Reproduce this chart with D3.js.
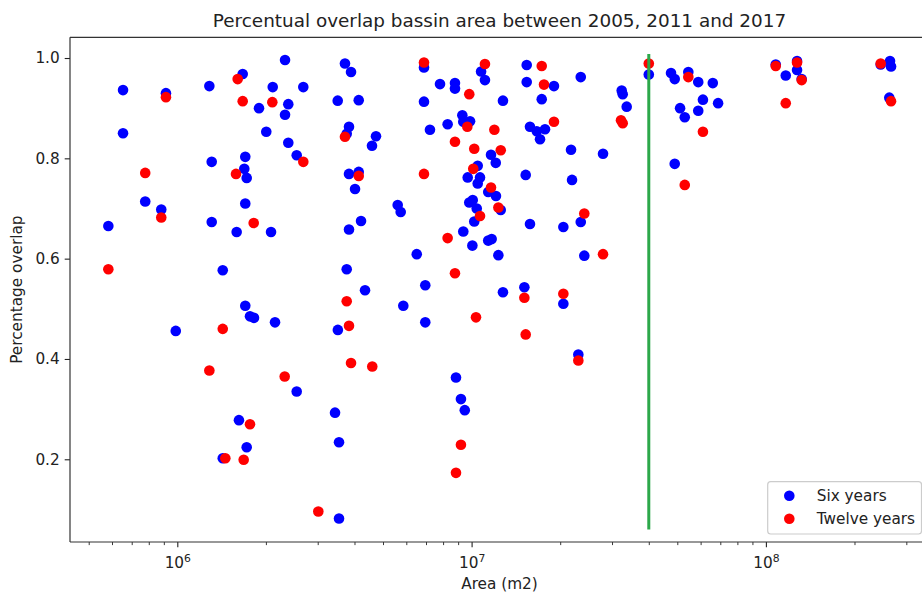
<!DOCTYPE html>
<html>
<head>
<meta charset="utf-8">
<script src="https://cdn.jsdelivr.net/npm/d3@7"></script>
<style>
  html, body { margin: 0; padding: 0; background: #fff; }
  svg { display: block; font-family: "DejaVu Sans", sans-serif; }
</style>
</head>
<body>
<svg id="chart" width="922" height="597"></svg>
<script>
// Basin area (m2) and percentage overlap, six-year comparisons
const sixYearsArea = [
  5.83e5, 6.54e5, 6.54e5, 7.78e5, 8.82e5, 9.15e5, 9.88e5, 1.285e6, 1.309e6, 1.309e6,
  1.427e6, 1.427e6, 1.591e6, 1.620e6, 1.668e6, 1.689e6, 1.702e6, 1.702e6, 1.702e6, 1.721e6,
  1.721e6, 1.766e6, 1.822e6, 1.895e6, 2.006e6, 2.082e6, 2.110e6, 2.148e6, 2.323e6, 2.323e6,
  2.383e6, 2.383e6, 2.545e6, 2.545e6, 2.680e6, 3.508e6, 3.512e6, 3.435e6, 3.544e6, 3.544e6,
  3.713e6, 3.893e6, 4.135e6, 3.832e6, 3.764e6, 4.733e6, 4.587e6, 3.832e6, 4.135e6, 4.017e6,
  5.609e6, 5.742e6, 4.210e6, 3.832e6, 3.764e6, 4.344e6, 5.86e6, 6.89e6, 7.81e6, 8.78e6,
  8.78e6, 6.89e6, 1.077e7, 1.110e7, 1.278e7, 1.539e7, 1.539e7, 1.905e7, 1.731e7, 1.579e7,
  1.776e7, 1.665e7, 1.708e7, 7.22e6, 8.29e6, 9.30e6, 9.37e6, 9.88e6, 1.164e7, 1.208e7,
  1.049e7, 9.70e6, 1.068e7, 1.049e7, 1.527e7, 1.139e7, 1.210e7, 9.82e6, 1.009e7, 1.041e7,
  1.256e7, 1.021e7, 9.37e6, 1.006e7, 1.139e7, 1.170e7, 1.233e7, 6.51e6, 1.579e7, 2.050e7,
  6.96e6, 6.96e6, 1.278e7, 1.511e7, 2.050e7, 8.85e6, 9.20e6, 9.48e6, 2.305e7, 2.349e7,
  3.236e7, 3.262e7, 3.365e7, 2.177e7, 2.796e7, 2.194e7, 2.349e7, 2.415e7, 4.0e7, 4.76e7,
  4.90e7, 5.45e7, 5.89e7, 6.60e7, 6.11e7, 6.88e7, 5.11e7, 5.30e7, 5.89e7, 4.90e7,
  1.080e8, 1.276e8, 1.276e8, 1.168e8, 1.323e8, 2.455e8, 2.641e8, 2.662e8, 2.626e8
];
const sixYearsOverlap = [
  0.665, 0.936, 0.850, 0.714, 0.698, 0.930, 0.456, 0.944, 0.793, 0.673,
  0.577, 0.202, 0.653, 0.278, 0.968, 0.779, 0.803, 0.710, 0.506, 0.761,
  0.224, 0.485, 0.482, 0.900, 0.853, 0.653, 0.942, 0.473, 0.996, 0.887,
  0.908, 0.831, 0.806, 0.335, 0.942, 0.915, 0.458, 0.293, 0.234, 0.082,
  0.989, 0.972, 0.916, 0.863, 0.849, 0.844, 0.825, 0.769, 0.773, 0.739,
  0.707, 0.693, 0.675, 0.658, 0.579, 0.537, 0.506, 0.981, 0.948, 0.950,
  0.939, 0.913, 0.973, 0.956, 0.915, 0.986, 0.952, 0.944, 0.918, 0.863,
  0.858, 0.854, 0.838, 0.857, 0.868, 0.886, 0.873, 0.874, 0.807, 0.791,
  0.785, 0.762, 0.762, 0.750, 0.767, 0.733, 0.725, 0.712, 0.717, 0.700,
  0.697, 0.674, 0.654, 0.626, 0.636, 0.639, 0.607, 0.609, 0.669, 0.663,
  0.547, 0.473, 0.533, 0.543, 0.510, 0.363, 0.320, 0.298, 0.409, 0.962,
  0.935, 0.928, 0.903, 0.817, 0.809, 0.757, 0.673, 0.606, 0.967, 0.970,
  0.958, 0.972, 0.952, 0.950, 0.917, 0.910, 0.900, 0.882, 0.895, 0.789,
  0.987, 0.994, 0.976, 0.965, 0.958, 0.987, 0.994, 0.983, 0.921
];

// Twelve-year comparisons
const twelveYearsArea = [
  5.83e5, 7.78e5, 8.82e5, 9.15e5, 1.285e6, 1.427e6, 1.456e6, 1.604e6, 1.668e6, 1.583e6,
  1.681e6, 1.766e6, 1.818e6, 2.103e6, 2.317e6, 2.680e6, 3.014e6, 3.713e6, 4.135e6, 3.764e6,
  3.832e6, 3.893e6, 4.597e6, 6.89e6, 6.89e6, 9.82e6, 1.110e7, 1.731e7, 1.762e7, 1.905e7,
  9.67e6, 1.195e7, 8.78e6, 1.021e7, 1.256e7, 1.013e7, 1.164e7, 1.233e7, 1.068e7, 8.29e6,
  8.78e6, 1.035e7, 1.511e7, 1.527e7, 9.20e6, 8.85e6, 2.050e7, 2.305e7, 3.218e7, 3.262e7,
  2.415e7, 2.796e7, 4.0e7, 5.45e7, 6.11e7, 5.30e7, 1.080e8, 1.276e8, 1.323e8, 1.168e8,
  2.455e8, 2.662e8
];
const twelveYearsOverlap = [
  0.579, 0.771, 0.682, 0.922, 0.377, 0.460, 0.202, 0.958, 0.914, 0.769,
  0.199, 0.270, 0.671, 0.912, 0.365, 0.793, 0.096, 0.843, 0.765, 0.515,
  0.466, 0.392, 0.385, 0.991, 0.769, 0.928, 0.988, 0.984, 0.947, 0.873,
  0.863, 0.857, 0.833, 0.819, 0.816, 0.779, 0.742, 0.702, 0.685, 0.641,
  0.571, 0.483, 0.522, 0.449, 0.229, 0.173, 0.530, 0.397, 0.876, 0.870,
  0.690, 0.609, 0.989, 0.962, 0.853, 0.747, 0.984, 0.991, 0.956, 0.910,
  0.989, 0.914
];

// Vertical reference line at 4e7 m2
const thresholdArea = 4e7;
const thresholdRange = [0.06, 1.008];

const xMajorTicks = [1e6, 1e7, 1e8];
const yTicks = [0.2, 0.4, 0.6, 0.8, 1.0];
const seriesNames = ["Six years", "Twelve years"];
const seriesColors = ["#0000ff", "#ff0000"];

const svg = d3.select("#chart");
const plotLeft = 70, plotRight = 929, plotTop = 37.3, plotBottom = 542;

const x = d3.scaleLog().domain([Math.pow(10, 5.6354), Math.pow(10, 8.5542)]).range([plotLeft, plotRight]);
const y = d3.scaleLinear().domain([0.0351, 1.0413]).range([plotBottom, plotTop]);

const tickColor = "#222";

// Minor ticks on the log axis
const minorTicks = [];
for (let e = 5; e <= 8; e++) {
  for (let k = 2; k <= 9; k++) {
    const v = k * Math.pow(10, e);
    if (v >= x.domain()[0] && v <= x.domain()[1]) minorTicks.push(v);
  }
}

const gxMinor = svg.append("g").attr("transform", `translate(0,${plotBottom})`)
  .call(d3.axisBottom(x).tickValues(minorTicks).tickSize(3.1).tickFormat(""));
gxMinor.select(".domain").remove();
gxMinor.selectAll("line").attr("stroke", tickColor).attr("stroke-width", 0.9);

const gx = svg.append("g").attr("transform", `translate(0,${plotBottom})`)
  .call(d3.axisBottom(x).tickValues(xMajorTicks).tickSize(5.3).tickPadding(5).tickFormat(() => ""));
gx.select(".domain").remove();
gx.selectAll("line").attr("stroke", tickColor).attr("stroke-width", 1.1);
gx.selectAll(".tick").each(function(d) {
  const t = d3.select(this).select("text")
    .attr("y", 26).attr("dy", null)
    .attr("font-size", 15.3).attr("fill", "#222")
    .attr("font-family", "DejaVu Sans, sans-serif");
  t.text(null);
  t.append("tspan").text("10");
  t.append("tspan").attr("dy", -6).attr("font-size", 10.8).text(String(Math.round(Math.log10(d))));
});

const gy = svg.append("g").attr("transform", `translate(${plotLeft},0)`)
  .call(d3.axisLeft(y).tickValues(yTicks).tickSize(5.3).tickPadding(5).tickFormat(d3.format(".1f")));
gy.select(".domain").remove();
gy.selectAll("line").attr("stroke", tickColor).attr("stroke-width", 1.1);
gy.selectAll("text").attr("font-size", 15.3).attr("fill", "#222")
  .attr("font-family", "DejaVu Sans, sans-serif");

// Data points: six-year series first, twelve-year series on top
const plot = svg.append("g");

const sixData = sixYearsArea.map((a, i) => ({ a, v: sixYearsOverlap[i] }));
const twelveData = twelveYearsArea.map((a, i) => ({ a, v: twelveYearsOverlap[i] }));

plot.selectAll("circle.six").data(sixData).join("circle")
  .attr("class", "six")
  .attr("cx", d => x(d.a)).attr("cy", d => y(d.v)).attr("r", 5.3)
  .attr("fill", seriesColors[0]);

plot.selectAll("circle.twelve").data(twelveData).join("circle")
  .attr("class", "twelve")
  .attr("cx", d => x(d.a)).attr("cy", d => y(d.v)).attr("r", 5.3)
  .attr("fill", seriesColors[1]);

plot.append("line")
  .attr("x1", x(thresholdArea)).attr("x2", x(thresholdArea))
  .attr("y1", y(thresholdRange[0])).attr("y2", y(thresholdRange[1]))
  .attr("stroke", "#2ca84a").attr("stroke-width", 3);

// Spines
const spine = svg.append("g").attr("stroke", "#333").attr("stroke-width", 1.2).attr("fill", "none");
spine.append("line").attr("x1", plotLeft).attr("x2", plotLeft).attr("y1", plotTop).attr("y2", plotBottom);
spine.append("line").attr("x1", plotLeft).attr("x2", plotRight).attr("y1", plotBottom).attr("y2", plotBottom);
spine.append("line").attr("x1", plotLeft).attr("x2", plotRight).attr("y1", plotTop).attr("y2", plotTop);
spine.append("line").attr("x1", plotRight).attr("x2", plotRight).attr("y1", plotTop).attr("y2", plotBottom);

// Title and axis labels
svg.append("text")
  .attr("x", (plotLeft + plotRight) / 2).attr("y", 27)
  .attr("text-anchor", "middle").attr("font-size", 18.4).attr("fill", "#222")
  .text("Percentual overlap bassin area between 2005, 2011 and 2017");

svg.append("text")
  .attr("x", (plotLeft + plotRight) / 2).attr("y", 589)
  .attr("text-anchor", "middle").attr("font-size", 15.3).attr("fill", "#222")
  .text("Area (m2)");

svg.append("text")
  .attr("transform", `translate(22,${(plotTop + plotBottom) / 2}) rotate(-90)`)
  .attr("text-anchor", "middle").attr("font-size", 15.3).attr("fill", "#222")
  .text("Percentage overlap");

// Legend
const legend = svg.append("g");
legend.append("rect")
  .attr("x", 767.7).attr("y", 481.7).attr("width", 153.8).attr("height", 52.3)
  .attr("rx", 3).attr("fill", "#fff").attr("fill-opacity", 0.8)
  .attr("stroke", "#ccc").attr("stroke-width", 1.2);
seriesNames.forEach((name, i) => {
  const cy = 495.7 + i * 23;
  legend.append("circle").attr("cx", 789.3).attr("cy", cy).attr("r", 5.3).attr("fill", seriesColors[i]);
  legend.append("text").attr("x", 816.7).attr("y", cy).attr("dy", "0.35em")
    .attr("font-size", 15.3).attr("fill", "#222").text(name);
});
</script>
</body>
</html>
